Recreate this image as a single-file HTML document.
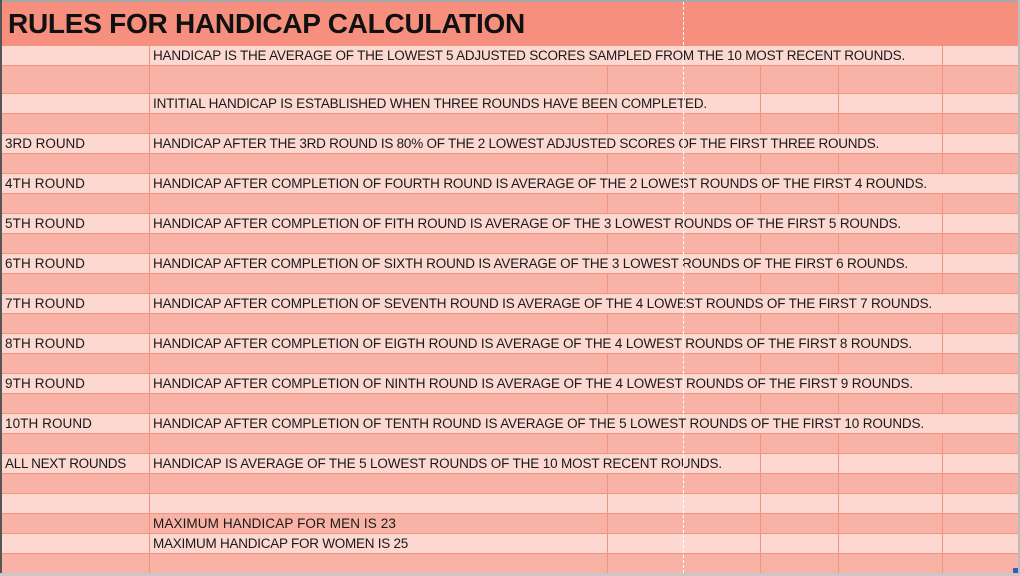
<!DOCTYPE html>
<html><head><meta charset="utf-8"><style>
body{margin:0;width:1020px;height:576px;overflow:hidden;background:#fff;position:relative;font-family:"Liberation Sans",sans-serif}
.r{position:absolute;left:2px;width:1016px}
.v{position:absolute;width:1px;background:#F0957F}
.t{position:absolute;font-size:13.5px;color:#1a1a1a;white-space:nowrap;line-height:20px}
</style></head><body>
<div id="sheet"></div>
<script>
const S=document.getElementById('sheet');
function el(tag,cls,st,name,txt){const e=document.createElement(tag);e.className=cls;e.style.cssText=st;if(txt)e.textContent=txt;S.appendChild(e);return e;}
el('div','','position:absolute;left:0;top:0;width:1020px;height:2px;background:#A8A8A8','top-border');
el('div','','position:absolute;left:0;top:0;width:2px;height:576px;background:#555','left-border');
el('div','','position:absolute;left:1018px;top:0;width:2px;height:576px;background:#bbb','right-border');
el('div','r','top:2px;height:43px;background:#F68F7D','title-row');
const title=el('div','t','left:8px;top:8px;font-size:28px;font-weight:bold;line-height:32px;color:#111','title','RULES FOR HANDICAP CALCULATION');
fit(title,517);
const cols=[149,607,683,760,838,942];
const bounds=[45,65,93,113,133,153,173,193,213,233,253,273,293,313,333,353,373,393,413,433,453,473,493,513,533,553,573];
const rows={0:['','HANDICAP IS THE AVERAGE OF THE LOWEST 5 ADJUSTED SCORES SAMPLED FROM THE 10 MOST RECENT ROUNDS.',905],
2:['','INTITIAL HANDICAP IS ESTABLISHED WHEN THREE ROUNDS HAVE BEEN COMPLETED.',707],
4:['3RD ROUND','HANDICAP AFTER THE 3RD ROUND IS 80% OF THE 2 LOWEST ADJUSTED SCORES OF THE FIRST THREE ROUNDS.',879],
6:['4TH ROUND','HANDICAP AFTER COMPLETION OF FOURTH ROUND IS AVERAGE OF THE 2 LOWEST ROUNDS OF THE FIRST 4 ROUNDS.',927],
8:['5TH ROUND','HANDICAP AFTER COMPLETION OF FITH ROUND IS AVERAGE OF THE 3 LOWEST ROUNDS OF THE FIRST 5 ROUNDS.',901],
10:['6TH ROUND','HANDICAP AFTER COMPLETION OF SIXTH ROUND IS AVERAGE OF THE 3 LOWEST ROUNDS OF THE FIRST 6 ROUNDS.',908],
12:['7TH ROUND','HANDICAP AFTER COMPLETION OF SEVENTH ROUND IS AVERAGE OF THE 4 LOWEST ROUNDS OF THE FIRST 7 ROUNDS.',932],
14:['8TH ROUND','HANDICAP AFTER COMPLETION OF EIGTH ROUND IS AVERAGE OF THE 4 LOWEST ROUNDS OF THE FIRST 8 ROUNDS.',912],
16:['9TH ROUND','HANDICAP AFTER COMPLETION OF NINTH ROUND IS AVERAGE OF THE 4 LOWEST ROUNDS OF THE FIRST 9 ROUNDS.',913],
18:['10TH ROUND','HANDICAP AFTER COMPLETION OF TENTH ROUND IS AVERAGE OF THE 5 LOWEST ROUNDS OF THE FIRST 10 ROUNDS.',924],
20:['ALL NEXT ROUNDS','HANDICAP IS AVERAGE OF THE 5 LOWEST ROUNDS OF THE 10 MOST RECENT ROUNDS.',722],
23:['','MAXIMUM HANDICAP FOR MEN IS 23',396],
24:['','MAXIMUM HANDICAP FOR WOMEN IS 25',408]};
const labW={'3RD ROUND':80,'4TH ROUND':80,'5TH ROUND':80,'6TH ROUND':80,'7TH ROUND':80,'8TH ROUND':80,'9TH ROUND':80,'10TH ROUND':87,'ALL NEXT ROUNDS':121};
for(let i=0;i<bounds.length-1;i++){
  const y=bounds[i],h=bounds[i+1]-y;
  el('div','r',`top:${y}px;height:${h}px;background:${i%2?'#F9B3A6':'#FCD8D1'};border-top:1px solid #F0957F;box-sizing:border-box`,'row-'+(i+1));
  const d=rows[i];
  const end=d?d[2]:0;
  cols.forEach((x)=>{
    if(x===683)return;
    if(x>149&&x<end+30)return;
    el('div','v',`left:${x}px;top:${y}px;height:${h}px`,'gridline');
  });
  if(d){
    if(d[0]){const a=el('div','t',`left:5px;top:${y+h-19}px`,'row-label',d[0]);fit(a,labW[d[0]]);}
    const b=el('div','t',`left:153px;top:${y+h-19}px`,'rule-text',d[1]);fit(b,end-153);
  }
}
el('div','',`position:absolute;left:683px;top:2px;width:0;height:571px;border-left:1px dashed #fff`,'page-break-line');
el('div','','position:absolute;left:0;top:573px;width:1020px;height:3px;background:#C8C8C8','bottom-border');
el('div','','position:absolute;left:1013px;top:568px;width:5px;height:5px;background:#3A5BB8','fill-handle');
function fit(e,w){const cw=e.getBoundingClientRect().width;const n=e.textContent.length;if(n>1)e.style.letterSpacing=((w-cw)/n)+'px';}
</script>
</body></html>
